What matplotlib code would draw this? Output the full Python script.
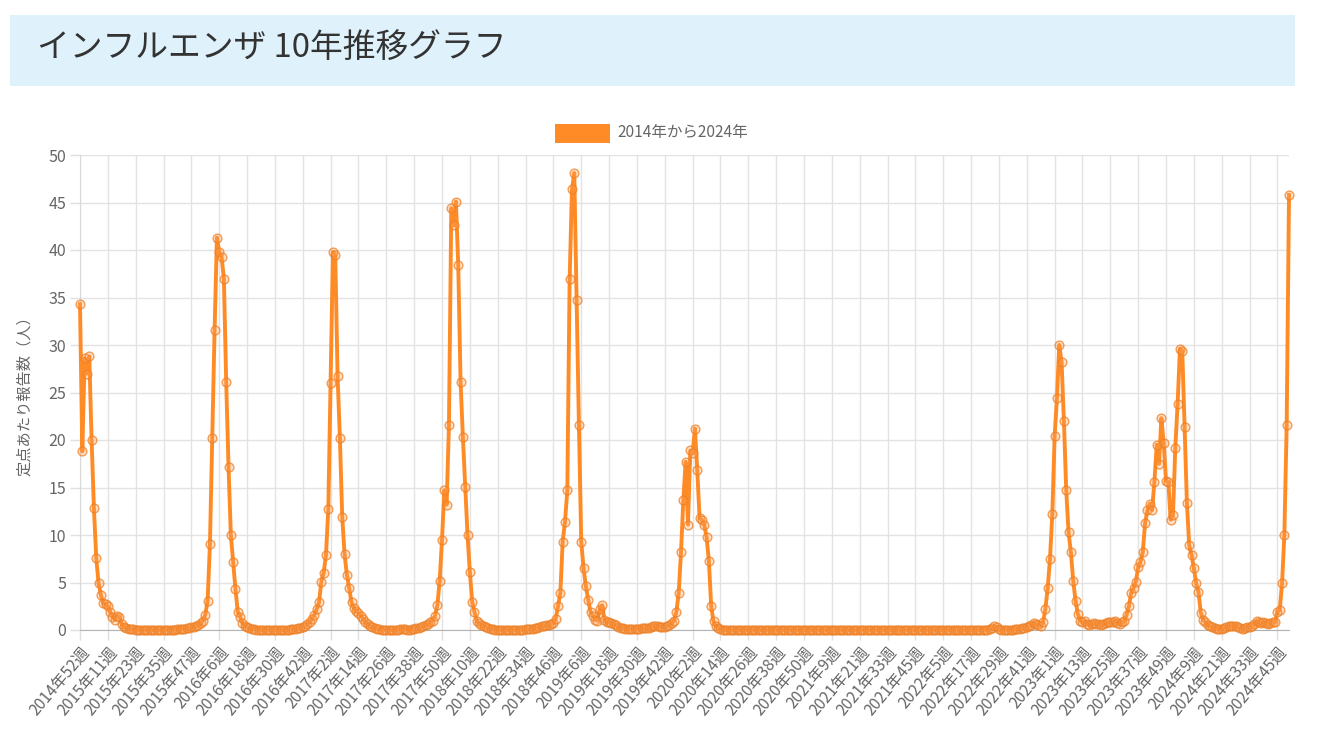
import matplotlib
matplotlib.use("Agg")
import matplotlib.pyplot as plt
from matplotlib.patches import Rectangle
import numpy as np

plt.rcParams['font.family'] = ['Noto Sans CJK JP', 'DejaVu Sans']

W, H = 1329, 734

# ---------------- data ----------------
title = "インフルエンザ 10年推移グラフ"
series_name = "2014年から2024年"
y_label = "定点あたり報告数（人）"

# (year, first week, last week) of the weekly categories
year_weeks = [(2014, 52, 53), (2015, 1, 53), (2016, 1, 52), (2017, 1, 52),
              (2018, 1, 52), (2019, 1, 52), (2020, 1, 53), (2021, 1, 52),
              (2022, 1, 52), (2023, 1, 52), (2024, 1, 51)]

season_2015 = [34.3, 18.8, 28.6, 27.0, 28.8, 20.0, 12.8, 7.6, 4.9, 3.7, 2.8,
               2.7, 2.5, 1.9, 1.4, 1.1, 1.5, 1.4, 0.6, 0.3, 0.2, 0.1]
summer_2015 = [0.1, 0.1, 0.05, 0.05, 0.05, 0.03, 0.02, 0.02, 0.02, 0.01, 0.01,
               0.01, 0.02, 0.02, 0.02, 0.03, 0.03, 0.04, 0.05, 0.05, 0.06,
               0.08, 0.1, 0.12]
season_2016 = [0.2, 0.2, 0.3, 0.3, 0.4, 0.5, 0.7, 1.0, 1.6, 3.1, 9.1, 20.2,
               31.6, 41.3, 39.8, 39.3, 37.0, 26.1, 17.2, 10.0, 7.2, 4.3, 1.9,
               1.4, 0.7, 0.4, 0.3, 0.2, 0.1]
summer_2016 = [0.1, 0.05, 0.05, 0.03, 0.02, 0.02, 0.01, 0.01, 0.01, 0.01, 0.02,
               0.02, 0.03, 0.03, 0.04, 0.05, 0.06, 0.08, 0.1, 0.2, 0.2, 0.3]
season_2017 = [0.4, 0.6, 0.8, 1.2, 1.6, 2.2, 2.9, 5.1, 6.0, 7.9, 12.7, 26.0,
               39.8, 39.5, 26.7, 20.2, 11.9, 8.0, 5.8, 4.4, 2.9, 2.3, 2.0, 1.8,
               1.5, 1.2, 0.8, 0.6, 0.4, 0.3, 0.2, 0.1]
summer_2017 = [0.1, 0.05, 0.05, 0.03, 0.03, 0.02, 0.02, 0.02, 0.05, 0.1, 0.15,
               0.1, 0.05, 0.05, 0.1, 0.1, 0.2, 0.2]
season_2018 = [0.3, 0.4, 0.5, 0.6, 0.8, 1.0, 1.5, 2.6, 5.2, 9.5, 14.7, 13.2,
               21.6, 44.4, 42.6, 45.1, 38.4, 26.1, 20.3, 15.1, 10.0, 6.1, 3.0,
               1.9, 0.9, 0.7, 0.5, 0.4, 0.3, 0.2, 0.1]
summer_2018 = [0.1, 0.05, 0.05, 0.03, 0.02, 0.02, 0.01, 0.01, 0.01, 0.01, 0.02,
               0.02, 0.03, 0.05, 0.07, 0.1, 0.1, 0.15, 0.2, 0.25, 0.3, 0.4]
season_2019 = [0.4, 0.5, 0.5, 0.6, 0.7, 1.2, 2.5, 3.9, 9.3, 11.4, 14.7, 36.9,
               46.4, 48.1, 34.7, 21.6, 9.3, 6.5, 4.6, 3.2, 1.9, 1.5, 1.1, 1.0,
               2.2, 2.6, 1.1, 0.8, 0.8, 0.7, 0.6, 0.5, 0.3, 0.2, 0.2]
summer_2019 = [0.15, 0.1, 0.1, 0.1, 0.1, 0.1, 0.15, 0.2, 0.2, 0.2, 0.25, 0.3,
               0.4, 0.4, 0.4, 0.35, 0.3, 0.3, 0.4, 0.5, 0.7, 1.0]
season_2020 = [1.9, 3.9, 8.2, 13.7, 17.7, 11.1, 18.9, 18.6, 21.2, 16.8, 11.8,
               11.6, 11.1, 9.8, 7.3, 2.5, 0.9, 0.4, 0.2, 0.1]
quiet_2020_2022 = [
    0.05, 0.03, 0.02, 0.02, 0.01, 0.01, 0.01, 0.01, 0.01, 0.01, 0.01, 0.01, 0.01,
    0.01, 0.01, 0.01, 0.01, 0.01, 0.01, 0.01, 0.01, 0.01, 0.01, 0.01, 0.01, 0.01,
    0.01, 0.01, 0.01, 0.01, 0.01, 0.01, 0.01, 0.01, 0.01, 0.01, 0.01, 0.01, 0.01,
    0.01, 0.01, 0.01, 0.01, 0.01, 0.01, 0.01, 0.01, 0.01, 0.01, 0.01, 0.01, 0.01,
    0.01, 0.01, 0.01, 0.01, 0.01, 0.01, 0.01, 0.01, 0.01, 0.01, 0.01, 0.01, 0.01,
    0.01, 0.01, 0.01, 0.01, 0.01, 0.01, 0.01, 0.01, 0.01, 0.01, 0.01, 0.01, 0.01,
    0.01, 0.01, 0.01, 0.01, 0.01, 0.01, 0.01, 0.01, 0.01, 0.01, 0.01, 0.01, 0.01,
    0.01, 0.01, 0.01, 0.01, 0.01, 0.01, 0.01, 0.01, 0.01, 0.01, 0.01, 0.01, 0.01,
    0.01, 0.01, 0.01, 0.01, 0.01, 0.02, 0.02, 0.02, 0.03, 0.03, 0.05, 0.1]
summer_2022 = [0.2, 0.4, 0.3, 0.1, 0.05, 0.05, 0.05, 0.05, 0.05, 0.05, 0.1, 0.1,
               0.1, 0.2, 0.2, 0.3, 0.4, 0.5, 0.7, 0.6, 0.5, 0.4, 0.8]
season_2023 = [2.2, 4.4, 7.5, 12.2, 20.4, 24.4, 30.0, 28.2, 22.0, 14.7, 10.3,
               8.2, 5.2, 3.1, 1.7, 1.0, 0.8, 0.9, 0.6, 0.5, 0.6, 0.7, 0.6, 0.6,
               0.5, 0.6, 0.7, 0.8, 0.8, 0.8, 0.9, 0.7, 0.6, 0.8, 0.9]
season_2024 = [1.6, 2.5, 3.9, 4.4, 5.1, 6.6, 7.2, 8.2, 11.3, 12.6, 13.3, 12.6,
               15.6, 19.5, 17.5, 22.3, 19.7, 15.7, 15.6, 11.6, 12.1, 19.2, 23.8,
               29.6, 29.4, 21.4, 13.4, 8.9, 7.9, 6.5, 4.9, 4.0, 1.8, 1.1, 0.8]
summer_2024 = [0.5, 0.4, 0.3, 0.2, 0.15, 0.1, 0.15, 0.2, 0.3, 0.4, 0.4, 0.45,
               0.4, 0.3, 0.2, 0.1, 0.2, 0.3, 0.3, 0.4, 0.6, 0.9, 0.8, 0.7, 0.8,
               0.7, 0.6, 0.7, 0.8, 0.8]
season_2025 = [1.9, 2.1, 4.9, 10.0, 21.6, 45.8]

y_ticks = [0, 5, 10, 15, 20, 25, 30, 35, 40, 45, 50]

# ---------------- build ----------------
labels = []
for yr, w0, w1 in year_weeks:
    for w in range(w0, w1 + 1):
        labels.append(f"{yr}年{w}週")

values = (season_2015 + summer_2015 + season_2016 + summer_2016 + season_2017 +
          summer_2017 + season_2018 + summer_2018 + season_2019 + summer_2019 +
          season_2020 + quiet_2020_2022 + summer_2022 + season_2023 +
          season_2024 + summer_2024 + season_2025)
n = len(values)
x = np.arange(n)

fig = plt.figure(figsize=(W / 100, H / 100), dpi=100)

# title banner
fig.patches.append(Rectangle((10 / W, 1 - 86 / H), 1285 / W, 71 / H,
                             transform=fig.transFigure, facecolor='#dff2fb',
                             edgecolor='none', zorder=0))
fig.text(37 / W, 1 - 48 / H, title, ha='left', va='center', fontsize=23.6,
         color='#333333')

# legend
orange = '#ff8b26'
fig.patches.append(Rectangle((555 / W, 1 - 143 / H), 55 / W, 19 / H,
                             transform=fig.transFigure, facecolor=orange,
                             edgecolor='none'))
fig.text(617 / W, 1 - 133 / H, series_name, ha='left', va='center',
         fontsize=11.2, color='#666666')

ax = fig.add_axes([80 / W, 1 - 630 / H, 1209 / W, 475 / H])
ax.plot(x, values, color=orange, lw=2.8, solid_joinstyle='round', zorder=3,
        marker='o', markersize=6.3, markerfacecolor=(1.0, 0.62, 0.32, 0.3),
        markeredgecolor=(0.93, 0.5, 0.15, 0.75), markeredgewidth=1.0,
        clip_on=False)

ax.set_xlim(0, n - 1)
ax.set_ylim(0, 50)
ax.set_yticks(y_ticks)
ax.set_yticklabels([str(v) for v in y_ticks], fontsize=11.5, color='#666666')
tick_pos = list(range(0, n, 12))
ax.set_xticks(tick_pos)
ax.set_xticklabels([labels[i] for i in tick_pos], rotation=50, ha='right',
                   va='top', rotation_mode='anchor', fontsize=11.3,
                   color='#666666')
ax.tick_params(axis='both', length=7, width=1, color='#e0e0e0', pad=3)
ax.grid(True, color='#e3e3e3', lw=1, zorder=0)
ax.set_axisbelow(True)
for side in ['top', 'right']:
    ax.spines[side].set_visible(False)
ax.spines['left'].set_color('#d9d9d9')
ax.spines['bottom'].set_color('#b3b3b3')
ax.set_ylabel(y_label, fontsize=11, color='#666666', labelpad=11)

fig.savefig('out.png', dpi=100)
